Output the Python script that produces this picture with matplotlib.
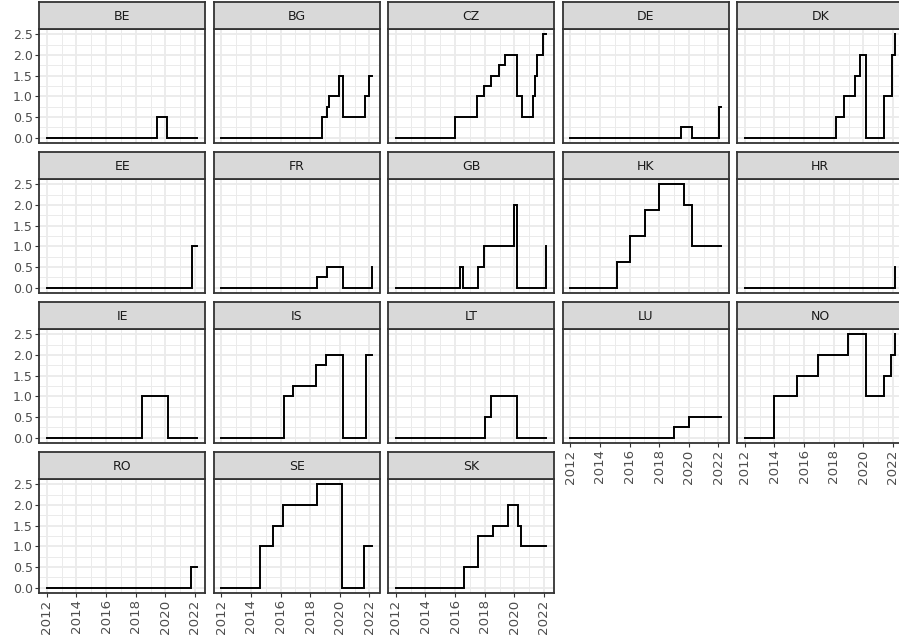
import matplotlib
matplotlib.use("Agg")
import matplotlib.pyplot as plt
from matplotlib.ticker import FixedLocator

# ---------------- data (step change dates in decimal years, rates in %) ----------------
first_date = 2012.0
last_date = 2022.17

countries = ["BE", "BG", "CZ", "DE", "DK",
             "EE", "FR", "GB", "HK", "HR",
             "IE", "IS", "LT", "LU", "NO",
             "RO", "SE", "SK"]

BE_dates = [2019.46, 2020.09]
BE_rates = [0.5, 0.0]
BG_dates = [2018.78, 2019.13, 2019.28, 2019.96, 2020.20, 2021.70, 2021.97]
BG_rates = [0.5, 0.75, 1.0, 1.5, 0.5, 1.0, 1.5]
CZ_dates = [2015.99, 2017.48, 2017.93, 2018.44, 2018.96, 2019.38, 2020.17, 2020.51,
            2021.23, 2021.39, 2021.50, 2021.93]
CZ_rates = [0.5, 1.0, 1.25, 1.5, 1.75, 2.0, 1.0, 0.5, 1.0, 1.5, 2.0, 2.5]
DE_dates = [2019.48, 2020.21, 2022.07]
DE_rates = [0.25, 0.0, 0.75]
DK_dates = [2018.14, 2018.72, 2019.46, 2019.80, 2020.19, 2021.37, 2021.94, 2022.15]
DK_rates = [0.5, 1.0, 1.5, 2.0, 0.0, 1.0, 2.0, 2.5]
EE_dates = [2021.80]
EE_rates = [1.0]
FR_dates = [2018.44, 2019.16, 2020.21, 2022.15]
FR_rates = [0.25, 0.5, 0.0, 0.5]
GB_dates = [2016.31, 2016.53, 2017.52, 2017.95, 2020.00, 2020.19, 2022.15]
GB_rates = [0.5, 0.0, 0.5, 1.0, 2.0, 0.0, 1.0]
HK_dates = [2015.12, 2016.00, 2017.06, 2017.98, 2019.67, 2020.20]
HK_rates = [0.625, 1.25, 1.875, 2.5, 2.0, 1.0]
HR_dates = [2022.11]
HR_rates = [0.5]
IE_dates = [2018.45, 2020.20]
IE_rates = [1.0, 0.0]
IS_dates = [2016.21, 2016.84, 2018.37, 2019.09, 2020.21, 2021.74]
IS_rates = [1.0, 1.25, 1.75, 2.0, 0.0, 2.0]
LT_dates = [2018.04, 2018.44, 2020.17]
LT_rates = [0.5, 1.0, 0.0]
LU_dates = [2018.97, 2020.00]
LU_rates = [0.25, 0.5]
NO_dates = [2013.96, 2015.49, 2016.92, 2018.95, 2020.19, 2021.40, 2021.89, 2022.15]
NO_rates = [1.0, 1.5, 2.0, 2.5, 1.0, 1.5, 2.0, 2.5]
RO_dates = [2021.73]
RO_rates = [0.5]
SE_dates = [2014.58, 2015.47, 2016.17, 2018.48, 2020.14, 2021.66]
SE_rates = [1.0, 1.5, 2.0, 2.5, 0.0, 1.0]
SK_dates = [2016.63, 2017.54, 2018.58, 2019.59, 2020.27, 2020.48]
SK_rates = [0.5, 1.25, 1.5, 2.0, 1.5, 1.0]

x_breaks = [2012, 2014, 2016, 2018, 2020, 2022]
x_minor = [2013, 2015, 2017, 2019, 2021]
y_breaks = [0.0, 0.5, 1.0, 1.5, 2.0, 2.5]
y_minor = [0.25, 0.75, 1.25, 1.75, 2.25]

tables = {
    "BE": (BE_dates, BE_rates), "BG": (BG_dates, BG_rates), "CZ": (CZ_dates, CZ_rates),
    "DE": (DE_dates, DE_rates), "DK": (DK_dates, DK_rates), "EE": (EE_dates, EE_rates),
    "FR": (FR_dates, FR_rates), "GB": (GB_dates, GB_rates), "HK": (HK_dates, HK_rates),
    "HR": (HR_dates, HR_rates), "IE": (IE_dates, IE_rates), "IS": (IS_dates, IS_rates),
    "LT": (LT_dates, LT_rates), "LU": (LU_dates, LU_rates), "NO": (NO_dates, NO_rates),
    "RO": (RO_dates, RO_rates), "SE": (SE_dates, SE_rates), "SK": (SK_dates, SK_rates),
}

# ---------------- layout (ggplot facet_wrap look, theme_bw) ----------------
W, H = 899, 639
fig = plt.figure(figsize=(W / 100, H / 100), dpi=100)
fig.patch.set_facecolor("white")

ncol = 5
n = len(countries)
left0, colstep, pw = 39.3, 174.5, 165.7
top0, rowstep, sh, ph = 2.3, 150.0, 27.0, 113.4

span = last_date - first_date
xlim = (first_date - 0.05 * span, last_date + 0.05 * span)
ylim = (min(y_breaks) - 0.05 * 2.5, max(y_breaks) + 0.05 * 2.5)

border = "#333333"
grid_c = "#EBEBEB"
txt_axis = "#4D4D4D"

for i, c in enumerate(countries):
    r, col = divmod(i, ncol)
    x0 = left0 + col * colstep
    ytop = top0 + r * rowstep

    ax = fig.add_axes([x0 / W, 1 - (ytop + sh + ph) / H, pw / W, ph / H])
    sax = fig.add_axes([x0 / W, 1 - (ytop + sh) / H, pw / W, sh / H])

    d, v = tables[c]
    xs = [first_date] + list(d) + [last_date]
    ys = [0.0] + list(v) + [v[-1]]
    ax.plot(xs, ys, drawstyle="steps-post", color="black", lw=1.4,
            solid_joinstyle="miter", zorder=3)

    ax.set_xlim(*xlim)
    ax.set_ylim(*ylim)
    ax.xaxis.set_major_locator(FixedLocator(x_breaks))
    ax.xaxis.set_minor_locator(FixedLocator(x_minor))
    ax.yaxis.set_major_locator(FixedLocator(y_breaks))
    ax.yaxis.set_minor_locator(FixedLocator(y_minor))
    ax.grid(which="major", color=grid_c, lw=1.3, zorder=0)
    ax.grid(which="minor", color=grid_c, lw=0.7, zorder=0)
    ax.set_axisbelow(True)
    for s in ax.spines.values():
        s.set_color(border)
        s.set_linewidth(1.3)
        s.set_zorder(4)

    ax.tick_params(which="minor", length=0)
    ax.tick_params(which="major", length=2.6, width=0.8, color=border,
                   labelcolor=txt_axis, labelsize=9)
    if col != 0:
        ax.tick_params(axis="y", which="major", left=False, labelleft=False)
    else:
        ax.set_yticklabels([f"{b:.1f}" for b in y_breaks])
        ax.tick_params(axis="y", pad=2.2)
    if i + ncol < n:
        ax.tick_params(axis="x", which="major", bottom=False, labelbottom=False)
    else:
        ax.set_xticklabels([str(b) for b in x_breaks])
        ax.tick_params(axis="x", labelrotation=90, pad=2.2, labelsize=9.6)

    sax.set_facecolor("#D9D9D9")
    sax.set_xticks([])
    sax.set_yticks([])
    for s in sax.spines.values():
        s.set_color(border)
        s.set_linewidth(1.3)
    sax.text(0.5, 0.47, c, transform=sax.transAxes, ha="center", va="center",
             fontsize=9, color="#1A1A1A")

fig.savefig("out.png", dpi=100)
